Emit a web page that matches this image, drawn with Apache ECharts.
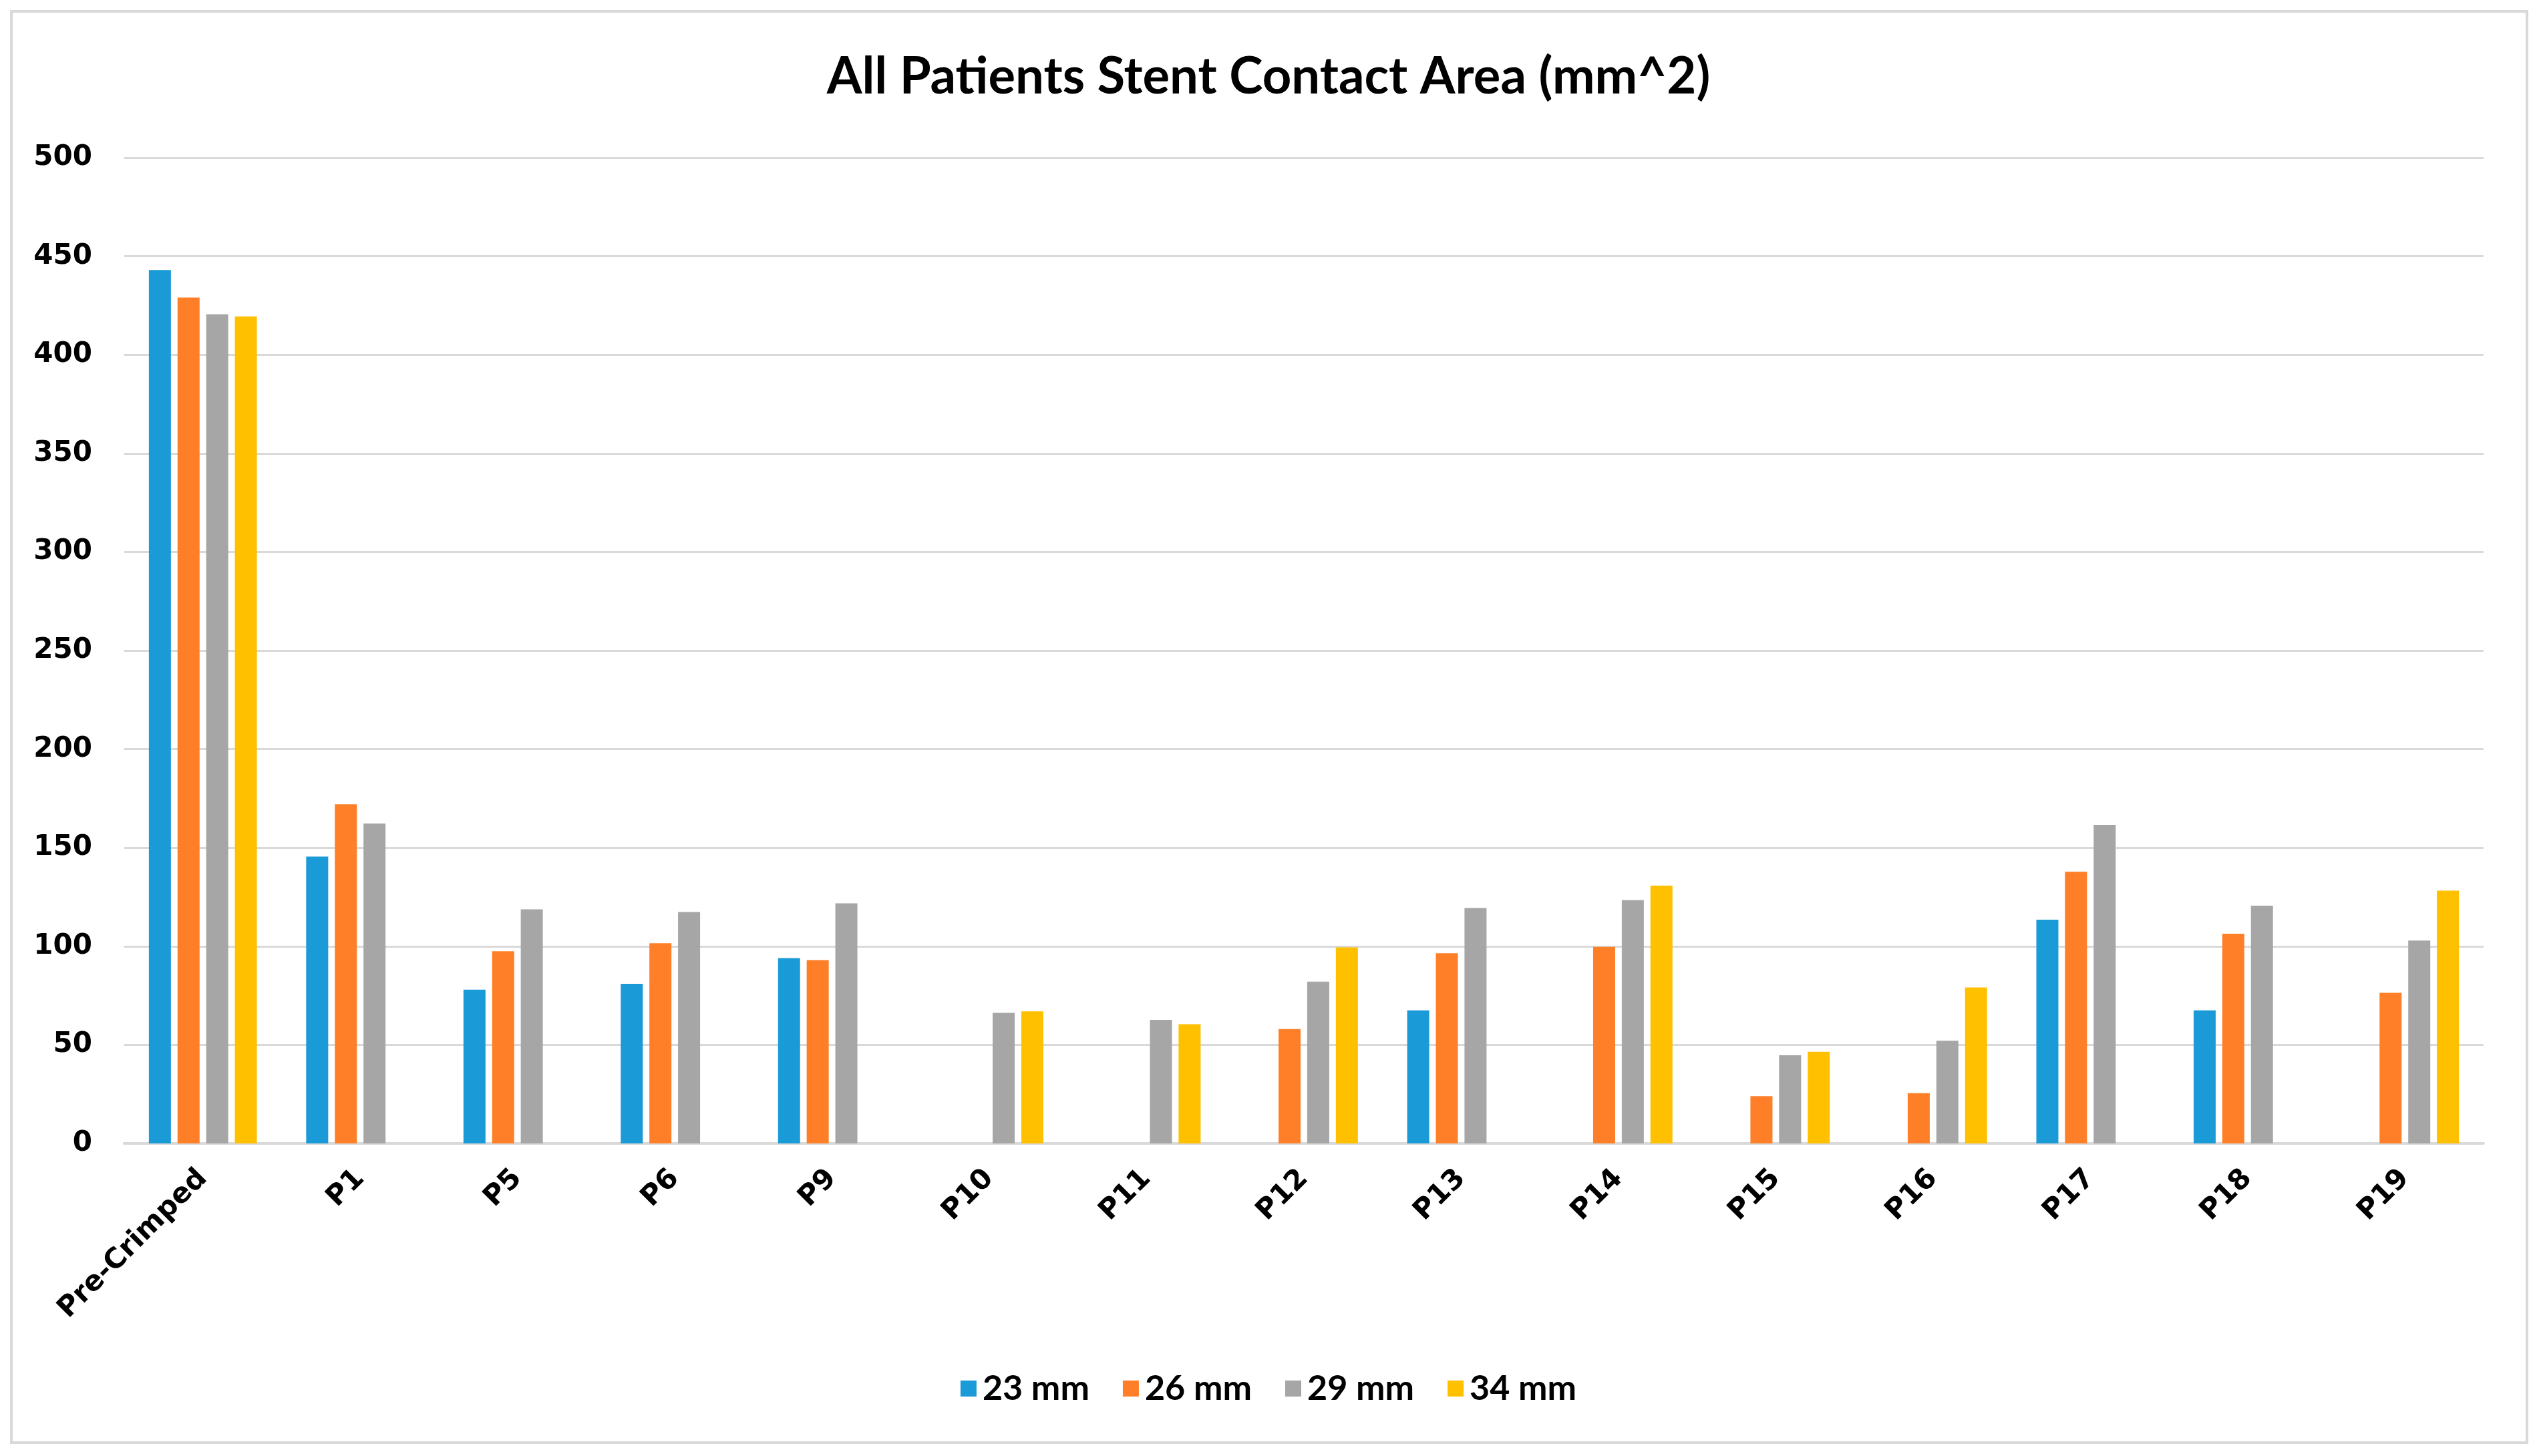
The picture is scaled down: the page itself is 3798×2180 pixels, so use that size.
<!DOCTYPE html>
<html>
<head>
<meta charset="utf-8">
<script src="https://cdn.jsdelivr.net/npm/echarts@6/dist/echarts.min.js"></script>
<style>
html,body{margin:0;padding:0;background:#fff;}
#chart{width:3798px;height:2180px;}
</style>
</head>
<body>
<div id="chart"></div>
<script>
const categories = ['Pre-Crimped','P1','P5','P6','P9','P10','P11','P12','P13','P14','P15','P16','P17','P18','P19'];
const seriesNames = ['23 mm','26 mm','29 mm','34 mm'];
const s23 = [443, 145.5, 78, 81, 94, null, null, null, 67.5, null, null, null, 113.5, 67.5, null];
const s26 = [429, 172, 97.5, 101.5, 93, null, null, 58, 96.5, 99.7, 24, 25.5, 137.8, 106.4, 76.4];
const s29 = [420.6, 162.3, 118.7, 117.4, 121.8, 66.2, 62.7, 82.1, 119.4, 123.4, 44.7, 52.1, 161.6, 120.6, 102.9];
const s34 = [419.5, null, null, null, null, 67, 60.5, 99.4, null, 130.8, 46.5, 79.1, null, null, 128.2];
const yTicks = [0, 50, 100, 150, 200, 250, 300, 350, 400, 450, 500];
const colors = ['#1a9bd7', '#fe7f27', '#a6a6a6', '#ffc000'];

const chart = echarts.init(document.getElementById('chart'));
const dataSets = [s23, s26, s29, s34];
chart.setOption({
  animation: false,
  backgroundColor: '#ffffff',
  title: {
    text: 'All Patients Stent Contact Area (mm^2)',
    left: 'center',
    top: 72,
    textStyle: { fontFamily: 'Lato', fontWeight: 'bold', fontSize: 76, color: '#000' }
  },
  graphic: [{
    type: 'rect',
    shape: { x: 17, y: 17, width: 3766, height: 2143 },
    style: { fill: 'none', stroke: '#d9d9d9', lineWidth: 4 },
    silent: true
  }],
  legend: {
    data: seriesNames,
    left: 'center',
    top: 2048,
    icon: 'rect',
    itemWidth: 24,
    itemHeight: 24,
    itemGap: 50,
    textStyle: { fontFamily: 'Lato', fontWeight: 'bold', fontSize: 52, color: '#000', padding: [0, 0, 0, 4] }
  },
  grid: { left: 186, right: 80, top: 236, bottom: 468, containLabel: false },
  xAxis: {
    type: 'category',
    data: categories,
    axisLine: { show: true, lineStyle: { color: '#d9d9d9', width: 4 } },
    axisTick: { show: false },
    axisLabel: {
      rotate: 45,
      interval: 0,
      margin: 46,
      fontFamily: 'DejaVu Sans',
      fontWeight: 'bold',
      fontSize: 42,
      color: '#000'
    }
  },
  yAxis: {
    type: 'value',
    min: yTicks[0],
    max: yTicks[yTicks.length - 1],
    interval: 50,
    axisLine: { show: false },
    axisTick: { show: false },
    splitLine: { lineStyle: { color: '#d9d9d9', width: 3 } },
    axisLabel: {
      margin: 48,
      fontFamily: 'DejaVu Sans',
      fontWeight: 'bold',
      fontSize: 42,
      color: '#000'
    }
  },
  series: seriesNames.map((name, i) => ({
    name: name,
    type: 'bar',
    data: dataSets[i],
    barWidth: 33,
    barGap: '30%',
    itemStyle: { color: colors[i] }
  }))
});
</script>
</body>
</html>
